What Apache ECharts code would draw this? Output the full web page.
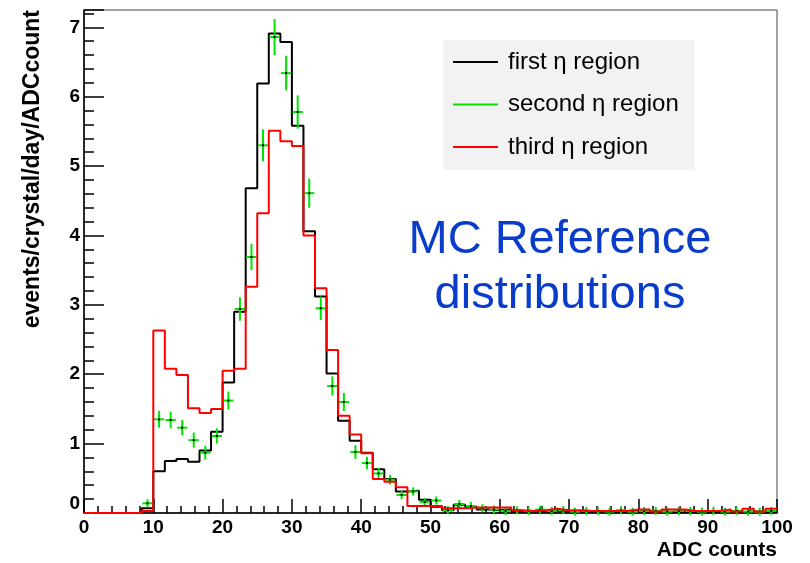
<!DOCTYPE html>
<html>
<head>
<meta charset="utf-8">
<script src="https://cdn.jsdelivr.net/npm/echarts@6/dist/echarts.min.js"></script>
<style>
html,body{margin:0;padding:0;background:#fff;}
#chart{width:810px;height:563px;}
</style>
</head>
<body>
<div id="chart"></div>
<script>
// ---- data ----
const xRange = [0, 100];
const nBins = 60;
const seriesNames = ['first η region', 'second η region', 'third η region'];
const firstRegion = [
  0, 0, 0, 0, 0, 0.07, 0.60, 0.75, 0.78, 0.74,
  0.90, 1.17, 1.88, 2.90, 4.68, 6.19, 6.91, 6.79, 5.58, 4.06,
  3.12, 2.01, 1.33, 1.04, 0.87, 0.63, 0.49, 0.31, 0.32, 0.19,
  0.09, 0.04, 0.12, 0.09, 0.05, 0.04, 0.05, 0.02, 0.03, 0.02,
  0.03, 0.02, 0.03, 0.02, 0.02, 0.01, 0.02, 0.03, 0.01, 0.02,
  0.01, 0.02, 0.01, 0.02, 0.01, 0.02, 0.01, 0.02, 0.01, 0.02
];
const secondRegion = [
  null, null, null, null, null, 0.14, 1.35, 1.34, 1.23, 1.05,
  0.87, 1.11, 1.62, 2.94, 3.69, 5.30, 6.86, 6.34, 5.78, 4.61,
  2.95, 1.83, 1.60, 0.88, 0.72, 0.57, 0.48, 0.26, 0.31, 0.16,
  0.18, 0.04, 0.13, 0.10, 0.07, 0.05, 0.03, 0.04, 0.03, 0.05,
  0.03, 0.04, 0.02, 0.03, 0.03, 0.02, 0.04, 0.02, 0.03, 0.03,
  0.02, 0.03, 0.03, 0.02, 0.03, 0.02, 0.03, 0.02, 0.02, 0.03
];
const secondErrors = [
  0, 0, 0, 0, 0, 0.03, 0.12, 0.12, 0.11, 0.11,
  0.10, 0.11, 0.13, 0.17, 0.19, 0.23, 0.26, 0.25, 0.24, 0.21,
  0.17, 0.14, 0.13, 0.10, 0.09, 0.08, 0.07, 0.05, 0.06, 0.04,
  0.04, 0.02, 0.04, 0.03, 0.03, 0.02, 0.02, 0.02, 0.02, 0.02,
  0.02, 0.02, 0.02, 0.02, 0.02, 0.02, 0.02, 0.02, 0.02, 0.02,
  0.02, 0.02, 0.02, 0.02, 0.02, 0.02, 0.02, 0.02, 0.02, 0.02
];
const thirdRegion = [
  0, 0, 0, 0, 0, 0.03, 2.63, 2.08, 1.99, 1.51,
  1.44, 1.50, 2.05, 2.08, 3.26, 4.32, 5.51, 5.36, 5.29, 4.00,
  3.24, 2.35, 1.40, 1.13, 0.86, 0.49, 0.45, 0.37, 0.10, 0.10,
  0.10, 0.07, 0.07, 0.08, 0.08, 0.08, 0.08, 0.04, 0.03, 0.04,
  0.06, 0.04, 0.04, 0.03, 0.03, 0.03, 0.03, 0.05, 0.05, 0.02,
  0.05, 0.05, 0.03, 0.03, 0.03, 0.05, 0.02, 0.06, 0.02, 0.06
];
const xTitle = 'ADC counts';
const yTitle = 'events/crystal/day/ADCcount';
const annotation = 'MC Reference\ndistributions';

// ---- build ----
const binW = (xRange[1] - xRange[0]) / nBins;
function stepData(vals) {
  const d = vals.map((v, i) => [xRange[0] + i * binW, v]);
  d.push([xRange[1], vals[vals.length - 1]]);
  return d;
}
const greenData = [];
secondRegion.forEach((v, i) => {
  if (v !== null) greenData.push([xRange[0] + (i + 0.5) * binW, v, secondErrors[i]]);
});

const FONT = '"Liberation Sans", Arial, Helvetica, sans-serif';
const GREEN = '#00e400';

const chart = echarts.init(document.getElementById('chart'));
chart.setOption({
  animation: false,
  backgroundColor: '#ffffff',
  grid: {left: 84, right: 33, top: 10, bottom: 50, show: true, borderColor: '#444', borderWidth: 1},
  xAxis: {
    type: 'value', min: xRange[0], max: xRange[1], interval: 10,
    axisLine: {onZero: false, lineStyle: {color: '#000', width: 1.5}},
    axisTick: {inside: true, length: 14, lineStyle: {color: '#000', width: 1.5}},
    minorTick: {show: true, splitNumber: 5, length: 7, lineStyle: {color: '#000', width: 1.5}},
    splitLine: {show: false},
    axisLabel: {fontSize: 19, fontWeight: 'bold', color: '#000', fontFamily: FONT, margin: 5}
  },
  yAxis: {
    type: 'value', min: 0, max: 7.25, interval: 1,
    axisLine: {onZero: false, lineStyle: {color: '#000', width: 1.5}},
    axisTick: {inside: true, length: 20, lineStyle: {color: '#000', width: 1.5}},
    minorTick: {show: true, splitNumber: 5, length: 10, lineStyle: {color: '#000', width: 1.5}},
    splitLine: {show: false},
    axisLabel: {fontSize: 19, fontWeight: 'bold', color: '#000', fontFamily: FONT, margin: 4,
      showMaxLabel: false,
      formatter: v => (v === 0 ? '{z|0}' : (Number.isInteger(v) ? String(v) : '')),
      rich: {z: {fontSize: 19, fontWeight: 'bold', fontFamily: FONT, color: '#000', padding: [0, 0, 18, 0]}}}
  },
  legend: {
    orient: 'vertical', left: 443, top: 40,
    backgroundColor: '#f2f2f2',
    padding: [10, 16, 11, 10],
    itemGap: 18.5, itemWidth: 45, itemHeight: 2, icon: 'rect',
    textStyle: {fontSize: 24, fontFamily: FONT, color: '#000', padding: [0, 0, 0, 5]},
    data: seriesNames
  },
  series: [
    {
      name: seriesNames[0], type: 'line', step: 'end', symbol: 'none',
      lineStyle: {color: '#000', width: 2}, itemStyle: {color: '#000'},
      data: stepData(firstRegion), z: 2
    },
    {
      name: seriesNames[1], type: 'custom',
      itemStyle: {color: GREEN},
      renderItem: function (params, api) {
        const x = api.value(0), y = api.value(1), e = api.value(2);
        const hw = binW * 0.45;
        const c = api.coord([x, y]);
        const l = api.coord([x - hw, y]);
        const r = api.coord([x + hw, y]);
        const t = api.coord([x, y + e]);
        const b = api.coord([x, y - e]);
        return {
          type: 'group',
          children: [
            {type: 'line', shape: {x1: l[0], y1: l[1], x2: r[0], y2: r[1]}, style: {stroke: GREEN, lineWidth: 2}},
            {type: 'line', shape: {x1: t[0], y1: Math.min(t[1], c[1] - 4), x2: b[0], y2: Math.max(b[1], c[1] + 4)}, style: {stroke: GREEN, lineWidth: 2}},
            {type: 'rect', shape: {x: c[0] - 1, y: c[1] - 1, width: 2, height: 2}, style: {fill: '#000'}}
          ]
        };
      },
      encode: {x: 0, y: 1},
      data: greenData, z: 3
    },
    {
      name: seriesNames[2], type: 'line', step: 'end', symbol: 'none',
      lineStyle: {color: '#ff0000', width: 2}, itemStyle: {color: '#ff0000'},
      data: stepData(thirdRegion), z: 4
    }
  ],
  graphic: [
    {type: 'text', x: 777, y: 561,
      style: {text: xTitle, align: 'right', verticalAlign: 'bottom', fontSize: 21, fontWeight: 'bold', fontFamily: FONT, fill: '#000'}},
    {type: 'text', x: 33, y: 10, rotation: Math.PI / 2,
      style: {text: yTitle, align: 'right', verticalAlign: 'middle', fontSize: 23, fontWeight: 'bold', fontFamily: FONT, fill: '#000'}},
    {type: 'text', x: 560, y: 213,
      style: {text: annotation, align: 'center', verticalAlign: 'top', fontSize: 47, lineHeight: 55, fontFamily: FONT, fill: '#0a3ccc'}}
  ]
});
</script>
</body>
</html>
